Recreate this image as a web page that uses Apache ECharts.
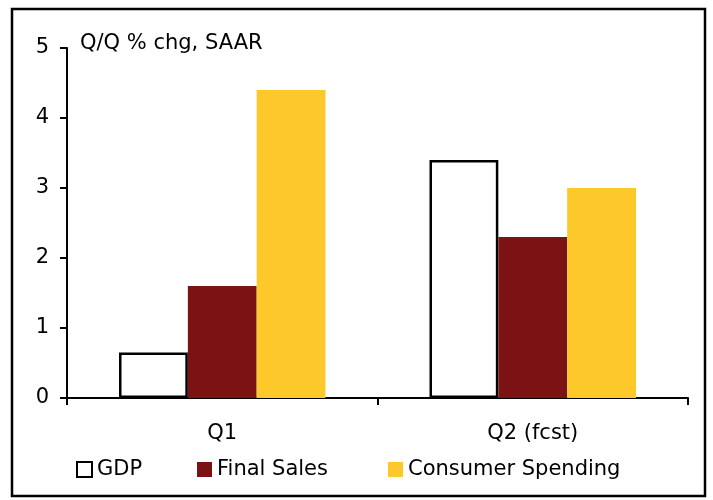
<!DOCTYPE html>
<html>
<head>
<meta charset="utf-8">
<script src="https://cdn.jsdelivr.net/npm/echarts@6/dist/echarts.min.js"></script>
<style>
  html, body { margin: 0; padding: 0; background: #fff; }
  #main { width: 713px; height: 500px; }
</style>
</head>
<body>
<div id="main"></div>
<script>
// data
const categories = ['Q1', 'Q2 (fcst)'];
const gdp = [0.65, 3.4];
const finalSales = [1.6, 2.3];
const consumerSpending = [4.4, 3.0];

const font = 'DejaVu Sans';
const fs = 21;

let chartDom = document.getElementById('main');
let myChart = echarts.init(chartDom);
let option;

function legendAt(name, left) {
  return {
    left: left,
    top: 459,
    padding: 0,
    icon: 'rect',
    itemWidth: 15,
    itemHeight: 15,
    textStyle: { fontFamily: font, fontSize: fs, color: '#000' },
    data: [name]
  };
}

option = {
  backgroundColor: '#fff',
  animation: false,
  textStyle: { fontFamily: font },
  graphic: [
    {
      type: 'rect',
      shape: { x: 12, y: 9, width: 693, height: 487 },
      style: { fill: 'none', stroke: '#000', lineWidth: 2.5 }
    },
    {
      type: 'text',
      left: 80,
      top: 33,
      style: { text: 'Q/Q % chg, SAAR', font: fs + 'px "DejaVu Sans"', fill: '#000' }
    }
  ],
  legend: [
    legendAt('GDP', 76),
    legendAt('Final Sales', 197),
    legendAt('Consumer Spending', 388)
  ],
  grid: { left: 67, right: 25, top: 48, bottom: 102 },
  xAxis: {
    type: 'category',
    data: categories,
    axisLine: { lineStyle: { color: '#000', width: 2 } },
    axisTick: { show: true, length: 7, lineStyle: { color: '#000', width: 2 } },
    axisLabel: { color: '#000', fontSize: fs, fontFamily: font, margin: 25 }
  },
  yAxis: {
    type: 'value',
    min: 0,
    max: 5,
    interval: 1,
    splitLine: { show: false },
    axisLine: { show: true, lineStyle: { color: '#000', width: 2 } },
    axisTick: { show: true, length: 7, lineStyle: { color: '#000', width: 2 } },
    axisLabel: { color: '#000', fontSize: fs, fontFamily: font, margin: 18, padding: [3, 0, 0, 0] }
  },
  series: [
    {
      name: 'GDP',
      type: 'bar',
      data: gdp,
      barGap: '0%',
      barCategoryGap: '33.5%',
      itemStyle: { color: '#fff', borderColor: '#000', borderWidth: 2.5 }
    },
    {
      name: 'Final Sales',
      type: 'bar',
      data: finalSales,
      itemStyle: { color: '#7b1315' }
    },
    {
      name: 'Consumer Spending',
      type: 'bar',
      data: consumerSpending,
      itemStyle: { color: '#fdc92a' }
    }
  ]
};

option && myChart.setOption(option);
</script>
</body>
</html>
